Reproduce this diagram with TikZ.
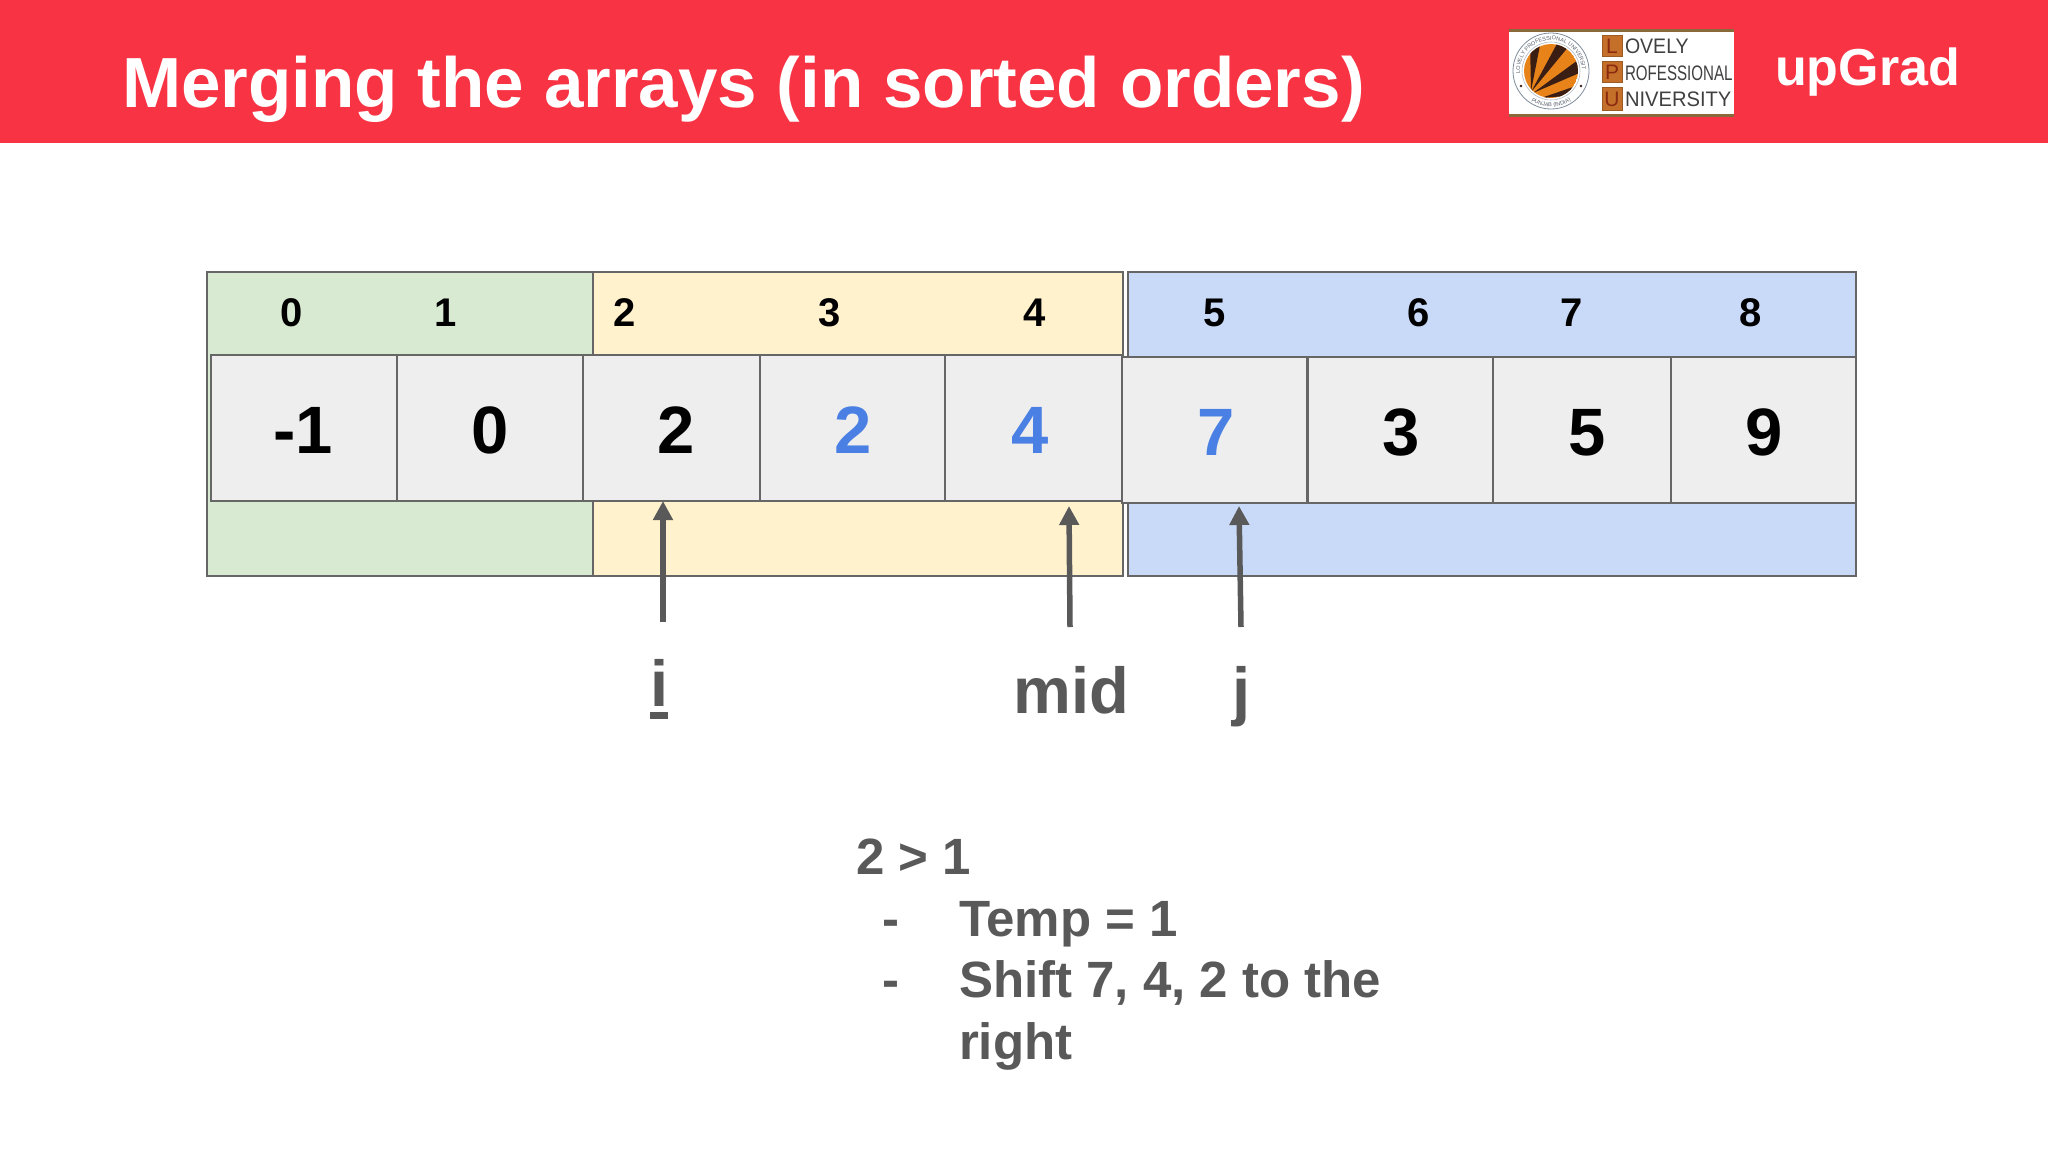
\documentclass[tikz,border=0pt]{standalone}
\usepackage{fontspec}
\setmainfont{Liberation Sans}
\usetikzlibrary{arrows.meta,decorations.text}
\definecolor{hdr}{HTML}{F73344}
\definecolor{pgreen}{HTML}{D9EAD3}
\definecolor{pyellow}{HTML}{FFF2CC}
\definecolor{pblue}{HTML}{C9DAF8}
\definecolor{pcell}{HTML}{EEEEEE}
\definecolor{bline}{HTML}{666666}
\definecolor{dgray}{HTML}{595959}
\definecolor{ablue}{HTML}{4A80E4}
\definecolor{lorange}{HTML}{E8831A}
\definecolor{lbox}{HTML}{C4702A}
\definecolor{lbrown}{HTML}{8A6A3A}
\definecolor{ldark}{HTML}{3A1E14}
\definecolor{lred}{HTML}{8B2A10}
\definecolor{lring}{HTML}{7F8C9C}
\newcommand{\fsz}[1]{\fontsize{#1}{#1}\selectfont}
\newcommand{\logotiny}{\fsz{5.6}\color{lring!70!black}}
\tikzset{
  txt/.style={inner sep=0pt,outer sep=0pt,anchor=base},
  txtw/.style={inner sep=0pt,outer sep=0pt,anchor=base west},
  panel/.style={draw=bline,line width=2.2pt},
  cellbox/.style={draw=bline,fill=pcell,line width=2.2pt,inner sep=0pt,outer sep=0pt,anchor=north west},
  idx/.style={txt,font=\fsz{40}\bfseries,text=black},
  big/.style={txt,font=\fsz{67}\bfseries,text=black},
  bigb/.style={big,text=ablue},
  ptr/.style={txt,font=\fsz{65}\bfseries,text=dgray},
  note/.style={txtw,font=\fsz{51}\bfseries,text=dgray},
  pointer/.style={draw=dgray,line width=5.5pt,-{Triangle[width=19pt,length=19pt]}},
  lpubox/.style={fill=lbox,draw=lbox!80!black,line width=.5pt},
  lpu/.style={txtw,font=\fsz{21},text=black!75},
  lpuc/.style={txt,font=\fsz{21},text=lred}
}
\begin{document}
\begin{tikzpicture}[x=1pt,y=-1pt]
\useasboundingbox (0,0) rectangle (2048,1152);
\fill[white] (0,0) rectangle (2048,1152);
% header
\fill[hdr] (0,0) rectangle (2048,143);
\node[txtw,font=\fsz{71}\bfseries,text=white] (title) at (122,107) {Merging the arrays (in sorted orders)};
% logo
\fill[white] (1509,30) rectangle (1734,116);
\fill[lbrown] (1509,29) rectangle (1734,32);
\fill[lbrown] (1509,114) rectangle (1734,117);
\draw[lring,line width=.8pt] (1551,71) circle[radius=38];
\draw[lring!60,line width=.6pt] (1551,71) circle[radius=29];
\begin{scope}
\clip (1551,71) circle[radius=27];
\fill[lorange] (1551,71) circle[radius=27];
\fill[ldark] (1531,91) -- (1530,40) -- (1541,40) -- cycle;
\fill[ldark] (1531,92) -- (1559,40) -- (1569,46) -- cycle;
\fill[ldark] (1533,93) -- (1578,60) -- (1584,71) -- cycle;
\fill[ldark] (1541,98) -- (1573,87) -- (1578,95) -- cycle;
\end{scope}
\fill[ldark] (1521,86) circle[radius=1.4];
\fill[ldark] (1581,86) circle[radius=1.4];
\begin{scope}[shift={(1551,71)},y=1pt]
\path[decorate,decoration={text along path,text align=center,text={|\logotiny|LOVELY PROFESSIONAL UNIVERSITY}}]
  (175:31) arc[start angle=175,end angle=5,radius=31];
\path[decorate,decoration={text along path,text align=center,text={|\logotiny|PUNJAB (INDIA)}}]
  (235:36) arc[start angle=235,end angle=305,radius=36];
\end{scope}
\fill[lpubox] (1602,35) rectangle (1622,56);
\fill[lpubox] (1602,61) rectangle (1622,82);
\fill[lpubox] (1602,87) rectangle (1622,110);
\node[lpuc] (lL) at (1612,53) {L};
\node[lpuc] (lP) at (1612,79) {P};
\node[lpuc] (lU) at (1612,106) {U};
\node[lpu,xscale=.93] (lovely) at (1625,53) {OVELY};
\node[lpu,xscale=.72] (prof) at (1625,80) {ROFESSIONAL};
\node[lpu,xscale=.96] (univ) at (1625,106) {NIVERSITY};
\node[txtw,font=\fsz{52}\bfseries,text=white] (upgrad) at (1775,85) {upGrad};
% panels
\draw[panel,fill=pgreen] (207,272) rectangle (593,576);
\draw[panel,fill=pyellow] (593,272) rectangle (1123,576);
\draw[panel,fill=pblue] (1128,272) rectangle (1856,576);
% cells
\node[cellbox,minimum width=186pt,minimum height=146pt] (c0) at (211,355) {};
\node[cellbox,minimum width=186pt,minimum height=146pt] (c1) at (397,355) {};
\node[cellbox,minimum width=178pt,minimum height=146pt] (c2) at (583,355) {};
\node[cellbox,minimum width=185pt,minimum height=146pt] (c3) at (760,355) {};
\node[cellbox,minimum width=177pt,minimum height=146pt] (c4) at (945,355) {};
\node[cellbox,minimum width=185pt,minimum height=146pt] (c5) at (1122,357) {};
\node[cellbox,minimum width=185pt,minimum height=146pt] (c6) at (1308,357) {};
\node[cellbox,minimum width=178pt,minimum height=146pt] (c7) at (1493,357) {};
\node[cellbox,minimum width=185pt,minimum height=146pt] (c8) at (1671,357) {};
% index labels
\node[idx] (i0) at (292,326) {0};
\node[idx] (i1) at (446,326) {1};
\node[idx] (i2) at (625,326) {2};
\node[idx] (i3) at (830,326) {3};
\node[idx] (i4) at (1035,326) {4};
\node[idx] (i5) at (1215,326) {5};
\node[idx] (i6) at (1419,326) {6};
\node[idx] (i7) at (1572,326) {7};
\node[idx] (i8) at (1751,326) {8};
% values
\node[big] (v0) at (303,453) {-1};
\node[big] (v1) at (490,453) {0};
\node[big] (v2) at (676,453) {2};
\node[bigb] (v3) at (853,453) {2};
\node[bigb] (v4) at (1030,453) {4};
\node[bigb] (v5) at (1216,455) {7};
\node[big] (v6) at (1401,455) {3};
\node[big] (v7) at (1587,455) {5};
\node[big] (v8) at (1764,455) {9};
% pointers
\coordinate (ai) at (663,622);
\coordinate (ait) at (663,501);
\coordinate (am) at (1070,627);
\coordinate (amt) at (1069,506);
\coordinate (aj) at (1241,627);
\coordinate (ajt) at (1239,506);
\draw[pointer] (ai) -- (ait);
\draw[pointer] (am) -- (amt);
\draw[pointer] (aj) -- (ajt);
\node[ptr] (li) at (659.5,706) {i};
\fill[dgray] (650,712) rectangle (668,719);
\node[ptr] (lm) at (1071,713) {mid};
\node[ptr] (lj) at (1242,713) {j};
% notes
\node[note] (n0) at (856,874) {2 > 1};
\node[note] (d1) at (882,936) {-};
\node[note] (n1) at (959,936) {Temp = 1};
\node[note] (d2) at (882,997) {-};
\node[note] (n2) at (959,997) {Shift 7, 4, 2 to the};
\node[note] (n3) at (959,1059) {right};
\end{tikzpicture}
\end{document}
